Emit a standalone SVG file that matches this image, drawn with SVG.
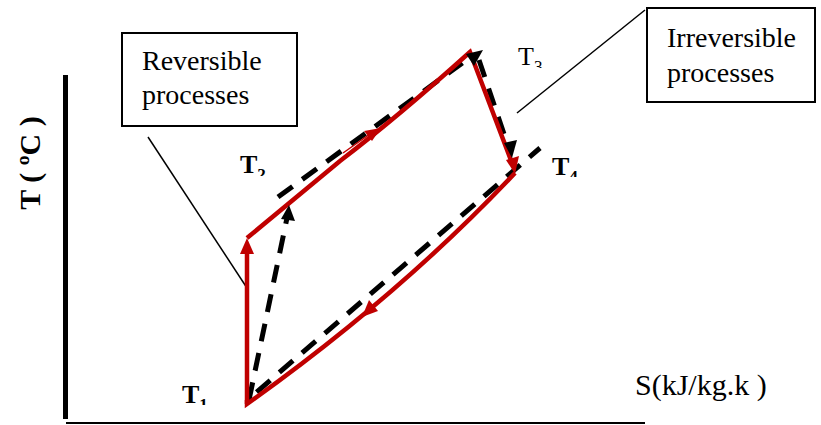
<svg xmlns="http://www.w3.org/2000/svg" width="821" height="425" viewBox="0 0 821 425">
<style>
.txt{font-family:"Liberation Serif","Times New Roman",serif;fill:#000}
.lbl{font-size:28px}
.tl{font-size:26px;font-weight:bold}
.sub{font-size:17px}
.red{stroke:#c00000;stroke-width:4.5;fill:none;stroke-linejoin:miter}
.dash{stroke:#000;stroke-width:5;fill:none;stroke-dasharray:18 12}
.thin{stroke:#000;stroke-width:1.5;fill:none}
.box{fill:#fff;stroke:#000;stroke-width:2}
</style>
<defs>
<clipPath id="c1"><rect x="170" y="370" width="50" height="35"/></clipPath>
<clipPath id="c2"><rect x="230" y="140" width="50" height="36"/></clipPath>
<clipPath id="c3"><rect x="510" y="30" width="50" height="38"/></clipPath>
<clipPath id="c4"><rect x="545" y="140" width="50" height="37"/></clipPath>
</defs>
<rect width="821" height="425" fill="#fff"/>
<g id="axes">
<line x1="65.5" y1="75" x2="65.5" y2="419" stroke="#000" stroke-width="5"/>
<line x1="66" y1="423" x2="645" y2="423" stroke="#000" stroke-width="2"/>
<text class="txt" font-size="30" font-weight="bold" transform="translate(40,163) rotate(-90)" text-anchor="middle">T ( ºC )</text>
<text class="txt" font-size="30" x="635" y="395">S(kJ/kg.k )</text>
</g>
<g id="connectors">
<line class="thin" x1="148" y1="137" x2="247" y2="288"/>
<line class="thin" x1="645" y1="10" x2="517" y2="113"/>
<!-- irreversible dashed -->
<line class="dash" x1="249" y1="400" x2="287" y2="218"/>
<line class="dash" x1="278" y1="197" x2="472" y2="56"/>
<line class="dash" x1="479" y1="60" x2="508" y2="146"/>
<line class="dash" x1="540" y1="148" x2="252" y2="396" stroke-dashoffset="4"/>
<!-- reversible red -->
<path class="red" d="M247,404 L247,250"/>
<path class="red" d="M247,238 L340,161 Q400,115 470,52 L512,163"/>
<path class="red" d="M515,173 Q400,295 247,404 L247,400"/>
<line x1="343" y1="153" x2="370" y2="134" stroke="#c00000" stroke-width="1.5"/>
<polygon points="247,238 240,254 254,254" fill="#c00000"/>
<polygon points="515,174 506,160 519,156" fill="#c00000"/>
<polygon points="381,128 364,131 372,141" fill="#c00000"/>
<polygon points="362,317 378,311 369,300" fill="#c00000"/>
<!-- dashed arrowheads on top -->
<polygon points="289,205 281,219 295,221" fill="#000"/>
<polygon points="483,50 466,54 474,66" fill="#000"/>
<polygon points="512,158 504,143 517,140" fill="#000"/>
</g>
<g id="reversible">
<rect class="box" x="122" y="33" width="175" height="93"/>
<text class="txt lbl" x="142" y="70">Reversible</text>
<text class="txt lbl" x="142" y="104">processes</text>
</g>
<g id="irreversible">
<rect class="box" x="647" y="8" width="168" height="94"/>
<text class="txt lbl" x="667" y="47">Irreversible</text>
<text class="txt lbl" x="667" y="82">processes</text>
</g>
<g id="t1" clip-path="url(#c1)"><text class="txt tl" x="182" y="403">T<tspan class="sub" dy="7">1</tspan></text></g>
<g id="t2" clip-path="url(#c2)"><text class="txt tl" x="240" y="173">T<tspan class="sub" dy="7">2</tspan></text></g>
<g id="t3" clip-path="url(#c3)"><text class="txt" font-size="26" x="518" y="65">T<tspan class="sub" dy="7">3</tspan></text></g>
<g id="t4" clip-path="url(#c4)"><text class="txt tl" x="552" y="175">T<tspan class="sub" dy="7">4</tspan></text></g>
</svg>
